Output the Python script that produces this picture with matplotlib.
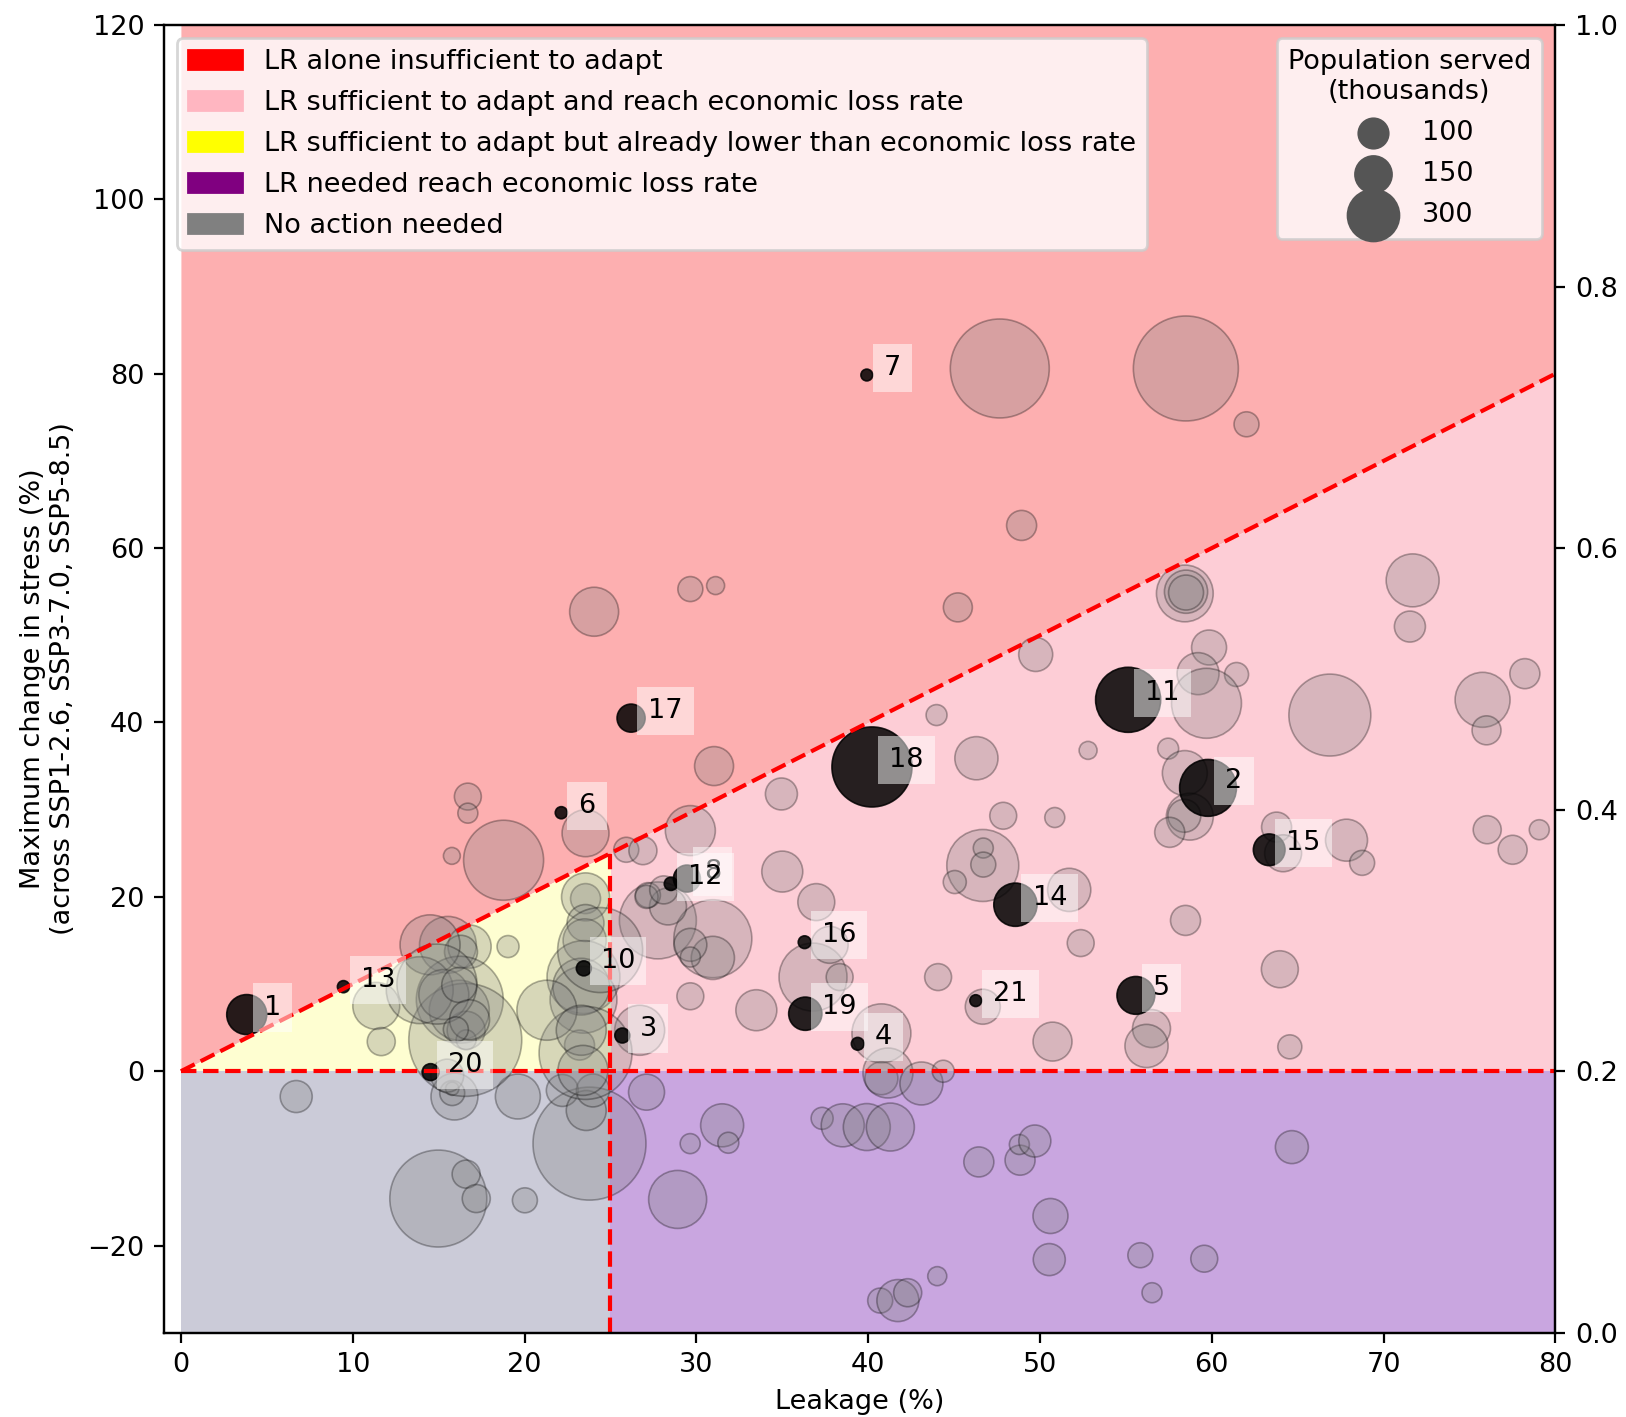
import matplotlib
matplotlib.use('Agg')
import matplotlib.pyplot as plt
from matplotlib.patches import Patch

# Unlabelled utilities: leakage (%), max change in stress (%), population served (thousands)
GrayLeakage = [47.66, 58.49, 62.02, 48.93, 24.05, 29.65, 31.12, 45.22, 49.75, 43.98,
               46.3, 31.03, 34.95, 52.8, 29.65, 25.92, 26.89, 47.86, 50.86, 46.67,
               46.7, 46.7, 45.04, 51.7, 52.37, 35.0, 36.98, 36.79, 38.34, 37.76,
               44.07, 33.49, 29.65, 40.77, 46.67, 50.73, 26.7, 27.76, 30.96, 30.96,
               29.65, 29.65, 28.35, 27.18, 40.77, 41.15, 43.1, 44.37,
               27.1, 31.5, 29.64, 31.86, 28.91, 37.32, 38.52, 39.92, 41.29, 46.44,
               48.84, 48.8, 49.7, 50.61, 50.54, 55.84, 59.56, 56.52, 64.66, 44.02,
               40.7, 41.73, 42.3,
               6.71, 14.98, 16.6, 17.19, 20.02, 23.78, 19.61, 22.2, 23.59, 15.92,
               15.79, 15.79, 23.98, 15.5,
               18.78, 15.77, 16.7, 16.7, 23.55, 19.04, 23.55, 23.55, 23.55, 23.5,
               23.43, 23.43, 23.3, 23.2, 23.55, 21.3, 11.37, 11.66, 15.54, 16.8,
               16.3, 16.23, 16.2, 16.6, 16.6, 16.55, 14.5, 13.9, 15.3, 14.9,
               16.2, 16.8, 16.0, 24.4, 23.3, 23.4, 27.1, 28.1,
               58.43, 58.5, 58.5, 71.69, 71.53, 59.84, 59.2, 61.44, 59.69, 66.87,
               75.76, 75.99, 78.22, 57.46, 58.43, 58.72, 58.4, 57.55, 63.77, 64.15,
               67.84, 68.75, 76.03, 77.51, 79.06, 58.47, 63.96, 56.49, 56.2, 64.54]
GrayStress = [80.6, 80.6, 74.2, 62.6, 52.7, 55.3, 55.7, 53.2, 47.8, 40.85,
              35.9, 35.0, 31.8, 36.8, 27.6, 25.4, 25.3, 29.3, 29.1, 23.6,
              25.6, 23.7, 21.7, 20.8, 14.7, 22.9, 19.4, 10.8, 10.8, 14.5,
              10.8, 7.0, 8.6, 4.35, 7.4, 3.4, 4.7, 17.3, 15.2, 13.0,
              14.5, 13.1, 18.9, 20.2, -0.8, -0.2, -1.4, 0.0,
              -2.4, -6.2, -8.3, -8.2, -14.7, -5.4, -6.2, -6.4, -6.4, -10.4,
              -10.2, -8.4, -8.0, -16.6, -21.6, -21.1, -21.5, -25.4, -8.7, -23.5,
              -26.3, -26.3, -25.4,
              -2.9, -14.6, -11.8, -14.6, -14.8, -8.3, -2.9, -2.2, -4.5, -2.9,
              -2.5, -2.0, -2.2, -0.5,
              24.2, 24.7, 31.5, 29.6, 27.3, 14.3, 19.8, 20.0, 17.0, 15.0,
              10.8, 8.2, 9.7, 3.0, 2.1, 7.0, 7.5, 3.4, 14.5, 14.3,
              13.7, 8.2, 7.0, 4.7, 3.6, 3.6, 14.5, 9.3, 8.8, 10.0,
              9.9, 5.9, 4.8, 13.9, 4.7, 0.1, 20.0, 20.8,
              54.8, 55.0, 54.9, 56.3, 51.0, 48.6, 45.6, 45.5, 42.2, 40.85,
              42.6, 39.1, 45.6, 37.0, 34.2, 29.2, 29.3, 27.4, 28.0, 25.0,
              26.5, 23.9, 27.7, 25.4, 27.7, 17.3, 11.7, 4.9, 2.9, 2.8]
GrayPop = [1270, 1429, 81, 117, 311, 81, 42, 109, 150, 57,
           242, 197, 133, 42, 324, 81, 102, 94, 52, 672,
           52, 81, 69, 242, 94, 218, 177, 600, 94, 177,
           94, 218, 94, 451, 159, 197, 324, 768, 788, 242,
           141, 52, 177, 81, 141, 324, 240, 63,
           168, 240, 52, 57, 436, 63, 240, 286, 299, 117,
           117, 52, 133, 159, 133, 81, 94, 52, 141, 47,
           81, 229, 102,
           133, 1219, 102, 102, 81, 1655, 262, 133, 207, 286,
           81, 23, 141, 141,
           830, 37, 94, 52, 286, 63, 117, 299, 177, 242,
           690, 580, 418, 117, 1120, 467, 286, 102, 418, 242,
           141, 980, 467, 187, 52, 1655, 467, 580, 324, 830,
           159, 207, 81, 936, 324, 324, 69, 102,
           418, 242, 159, 364, 125, 159, 229, 75, 635, 871,
           392, 109, 117, 57, 262, 286, 141, 117, 117, 177,
           229, 81, 102, 109, 52, 117, 177, 187, 242, 75]

# Labelled utilities
LabelIds = ['1', '2', '3', '4', '5', '6', '7', '8', '10', '11', '12', '13',
            '14', '15', '16', '17', '18', '19', '20', '21']
LabelLeakage = [3.83, 59.78, 25.69, 39.39, 55.58, 22.14, 39.92, 29.45, 23.45, 55.13,
                28.52, 9.46, 48.57, 63.34, 36.3, 26.2, 40.22, 36.34, 14.53, 46.26]
LabelStress = [6.5, 32.5, 4.1, 3.15, 8.7, 29.65, 79.85, 22.1, 11.8, 42.6,
               21.5, 9.7, 19.1, 25.4, 14.8, 40.5, 34.9, 6.6, -0.1, 8.1]
LabelPop = [207, 418, 29, 21, 185, 19, 18, 94, 29, 548,
            23, 19, 242, 130, 21, 102, 830, 143, 37, 18]

SizeLegendValues = [100, 150, 300]

RegionNames = ['LR alone insufficient to adapt',
               'LR sufficient to adapt and reach economic loss rate',
               'LR sufficient to adapt but already lower than economic loss rate',
               'LR needed reach economic loss rate',
               'No action needed']
RegionColors = ['red', 'lightpink', 'yellow', 'purple', 'gray']
RegionFills = ['#fdafb0', '#fdcdd6', '#fefed1', '#c9a6e0', '#cbcbd8']

LeakThreshold = 25
XMax = 80
YMin, YMax = -30, 120

plt.rcParams['font.size'] = 9.75

Fig = plt.figure(figsize=(8.13, 7.085), dpi=200)
Ax = Fig.add_axes([0.1007, 0.0594, 0.8559, 0.923])

# Regions
Ax.fill_between([0, XMax], [0, XMax], [YMax, YMax], color=RegionFills[0], lw=0)
Ax.fill_between([LeakThreshold, XMax], [0, 0], [LeakThreshold, XMax], color=RegionFills[1], lw=0)
Ax.fill_between([0, LeakThreshold], [0, 0], [0, LeakThreshold], color=RegionFills[2], lw=0)
Ax.fill_between([LeakThreshold, XMax], [YMin, YMin], [0, 0], color=RegionFills[3], lw=0)
Ax.fill_between([0, LeakThreshold], [YMin, YMin], [0, 0], color=RegionFills[4], lw=0)

Ax.scatter(GrayLeakage, GrayStress, s=GrayPop, color='gray', alpha=0.3,
           edgecolors='black', linewidths=0.6, zorder=2)
Ax.scatter(LabelLeakage, LabelStress, s=LabelPop, color='black', alpha=0.85,
           edgecolors='black', linewidths=0.6, zorder=2)

Ax.plot([0, XMax], [0, XMax], 'r--', lw=1.5, zorder=2.5)
Ax.plot([0, XMax], [0, 0], 'r--', lw=1.5, zorder=2.5)
Ax.plot([LeakThreshold, LeakThreshold], [YMin, LeakThreshold], 'r--', lw=1.5, zorder=2.5)

for Lab, X, Y in zip(LabelIds, LabelLeakage, LabelStress):
    Ax.text(X + 1.0, Y, Lab, zorder=3,
            bbox=dict(facecolor='white', alpha=0.5, edgecolor='none'))

Ax.set_xlim(-1, XMax)
Ax.set_ylim(YMin, YMax)
Ax.set_xticks(range(0, 81, 10))
Ax.set_xlabel('Leakage (%)')
Ax.set_ylabel('Maximum change in stress (%)\n(across SSP1-2.6, SSP3-7.0, SSP5-8.5)')

RegionHandles = [Patch(color=c) for c in RegionColors]
Leg1 = Ax.legend(RegionHandles, RegionNames, loc='upper left', labelspacing=0.55)
Ax.add_artist(Leg1)

SizeHandles = [Ax.scatter([], [], s=v * 1.12, color='#555555') for v in SizeLegendValues]
Leg2 = Ax.legend(SizeHandles, [str(v) for v in SizeLegendValues], loc='upper right',
                 title='Population served\n(thousands)', alignment='center',
                 scatterpoints=1, labelspacing=0.55)
Leg2.get_title().set_multialignment('center')

Ax2 = Ax.twinx()
Ax2.set_ylim(0, 1)

Fig.savefig('out.png', dpi=200)
